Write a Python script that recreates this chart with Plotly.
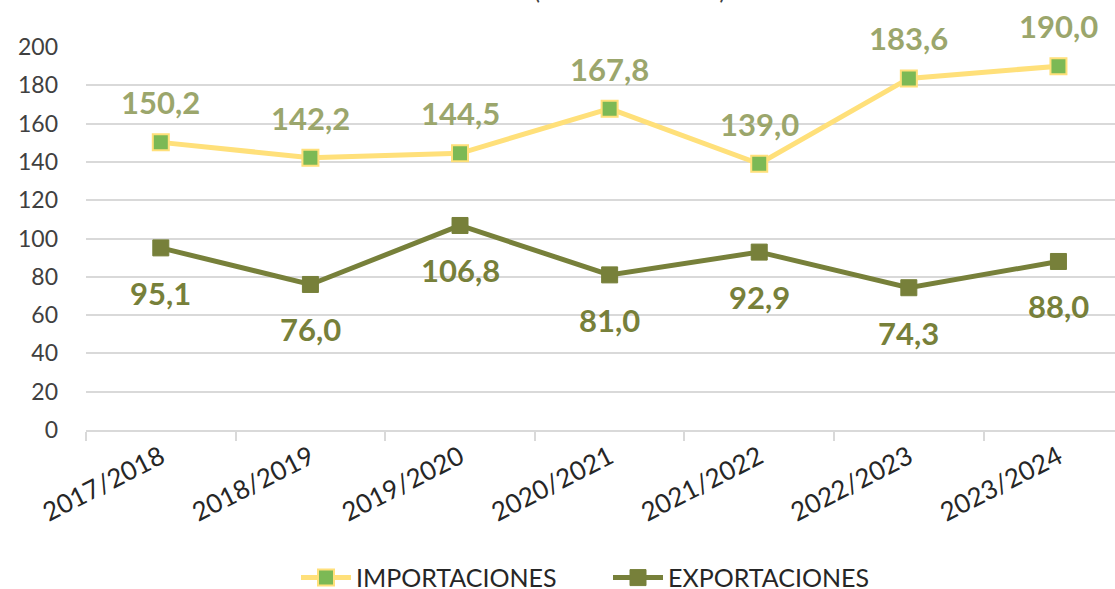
import plotly.graph_objects as go

categories = ["2017/2018", "2018/2019", "2019/2020", "2020/2021", "2021/2022", "2022/2023", "2023/2024"]
importaciones = [150.2, 142.2, 144.5, 167.8, 139.0, 183.6, 190.0]
exportaciones = [95.1, 76.0, 106.8, 81.0, 92.9, 74.3, 88.0]
y_ticks = [0, 20, 40, 60, 80, 100, 120, 140, 160, 180, 200]
title_text = "(MILES DE TONELADAS)"

FONT = "Lato"
IMP_LINE = "#FFE07A"
IMP_MARK = "#7CB955"
IMP_LABEL = "#9BA66C"
EXP_COLOR = "#77803A"

def fmt(v):
    return f"{v:.1f}".replace(".", ",")

fig = go.Figure()
fig.add_trace(go.Scatter(
    x=categories, y=importaciones, name="IMPORTACIONES", mode="lines+markers",
    line=dict(color=IMP_LINE, width=5),
    marker=dict(symbol="square", size=16, color=IMP_MARK, line=dict(color=IMP_LINE, width=2)),
))
fig.add_trace(go.Scatter(
    x=categories, y=exportaciones, name="EXPORTACIONES", mode="lines+markers",
    line=dict(color=EXP_COLOR, width=5),
    marker=dict(symbol="square", size=16, color=EXP_COLOR, line=dict(color=EXP_COLOR, width=1)),
))

annotations = []
for c, v in zip(categories, importaciones):
    annotations.append(dict(x=c, y=v, xref="x", yref="y", text=f"<b>{fmt(v)}</b>", showarrow=False,
                            yshift=40, font=dict(family=FONT, size=31, color=IMP_LABEL)))
for c, v in zip(categories, exportaciones):
    annotations.append(dict(x=c, y=v, xref="x", yref="y", text=f"<b>{fmt(v)}</b>", showarrow=False,
                            yshift=-45, font=dict(family=FONT, size=31, color=EXP_COLOR)))
annotations.append(dict(x=(630 - 86) / 1029, xref="paper", y=1 + (47 - 6) / 383, yref="paper",
                        text=f"<b>{title_text}</b>", showarrow=False, yanchor="bottom",
                        font=dict(family=FONT, size=17, color="#404040")))

fig.update_layout(
    width=1115, height=589,
    margin=dict(l=86, r=0, t=47, b=159, autoexpand=False),
    paper_bgcolor="white", plot_bgcolor="white",
    font=dict(family=FONT, color="#404040"),
    showlegend=True,
    legend=dict(orientation="h", x=(296 - 86) / 1029, xanchor="left", y=-0.386, yanchor="middle",
                font=dict(family=FONT, size=25, color="#262626"), itemwidth=50,
                entrywidth=247, entrywidthmode="pixels", traceorder="normal"),
    annotations=annotations,
)
fig.update_xaxes(
    type="category", range=[-0.5, 6.378], tickson="boundaries", automargin=False,
    ticks="outside", ticklen=9, tickcolor="#D9D9D9", tickwidth=2,
    showline=True, linecolor="#D9D9D9", linewidth=2,
    showgrid=False, tickangle=-27,
    tickfont=dict(family=FONT, size=26, color="#262626"),
)
fig.update_yaxes(
    range=[0, 200], tickvals=y_ticks, showgrid=True, gridcolor="#D9D9D9", gridwidth=2,
    zeroline=False, showline=False, ticks="", ticklabelstandoff=27, automargin=False,
    tickfont=dict(family=FONT, size=23, color="#404040"),
)
fig.write_html("out.html", post_script="document.body.style.margin='0';",
               config={"displayModeBar": False})
